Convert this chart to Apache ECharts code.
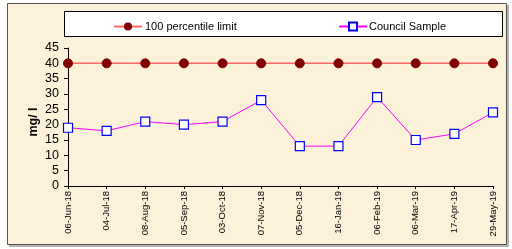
<!DOCTYPE html>
<html><head><meta charset="utf-8">
<script src="https://cdn.jsdelivr.net/npm/echarts@6/dist/echarts.min.js"></script>
<style>html,body{margin:0;padding:0;background:#fff}#c{width:512px;height:249px}</style>
</head><body><div id="c"></div>
<script>
var categories = ['06-Jun-18','04-Jul-18','08-Aug-18','05-Sep-18','03-Oct-18','07-Nov-18','05-Dec-18','16-Jan-19','06-Feb-19','06-Mar-19','17-Apr-19','29-May-19'];
var limitValues = [40,40,40,40,40,40,40,40,40,40,40,40];
var sampleValues = [19,18,21,20,21,28,13,13,29,15,17,24];
var yAxisTitle = 'mg/ l';
var chart = echarts.init(document.getElementById('c'));
chart.setOption({
  animation: false,
  backgroundColor: '#ffffff',
  graphic: [
    {type:'rect', z:-10, shape:{x:7.5,y:3.5,width:499,height:241}, style:{fill:'#fcf2da', stroke:'#555555', lineWidth:1}},
    {type:'line', z:-9, shape:{x1:508,y1:5,x2:508,y2:246}, style:{stroke:'#999999', lineWidth:1.5}},
    {type:'line', z:-9, shape:{x1:9,y1:246,x2:508,y2:246}, style:{stroke:'#999999', lineWidth:1.5}},
    {type:'rect', z:-5, shape:{x:64.5,y:11.5,width:438,height:25}, style:{fill:'#ffffff', stroke:'#000000', lineWidth:1}},
    {type:'text', x:34, y:122, rotation:Math.PI/2, style:{text:yAxisTitle, fontFamily:'Liberation Sans, Arial', fontSize:12.5, fontWeight:'bold', fill:'#000', align:'center', verticalAlign:'middle'}}
  ],
  legend: [
    {data:['100 percentile limit'], left:108, top:16, itemWidth:28, itemHeight:10, itemGap:5, textStyle:{fontFamily:'Liberation Sans, Arial', fontSize:11, color:'#000', padding:[0,0,0,-2]}},
    {data:['Council Sample'], left:333, top:16, itemWidth:28, itemHeight:10, textStyle:{fontFamily:'Liberation Sans, Arial', fontSize:11, color:'#000', padding:[0,0,0,-3]}}
  ],
  grid: {left:68, right:19, top:48, bottom:63},
  xAxis: {
    type:'category', data:categories, boundaryGap:false,
    axisLine:{lineStyle:{color:'#000', width:1}},
    axisTick:{show:true, alignWithLabel:true, length:3, lineStyle:{color:'#000'}},
    axisLabel:{rotate:90, fontSize:9.5, fontFamily:'Liberation Sans, Arial', color:'#000', margin:5, interval:0},
    splitLine:{show:false}
  },
  yAxis: {
    type:'value', min:0, max:45, interval:5,
    axisLine:{show:true, lineStyle:{color:'#000', width:1}},
    axisTick:{show:true, length:4, lineStyle:{color:'#000'}},
    axisLabel:{fontSize:12.5, fontFamily:'Liberation Sans, Arial', color:'#000', margin:9},
    splitLine:{show:false}
  },
  series: [
    {name:'100 percentile limit', type:'line', data:limitValues, symbol:'circle', symbolSize:9,
     lineStyle:{color:'#ff6666', width:1.5}, itemStyle:{color:'#800000', borderColor:'#800000'}},
    {name:'Council Sample', type:'line', data:sampleValues, symbol:'rect', symbolSize:9,
     lineStyle:{color:'#ff00ff', width:1}, itemStyle:{color:'#ffffff', borderColor:'#0000ff', borderWidth:1.2}}
  ]
});
</script></body></html>
